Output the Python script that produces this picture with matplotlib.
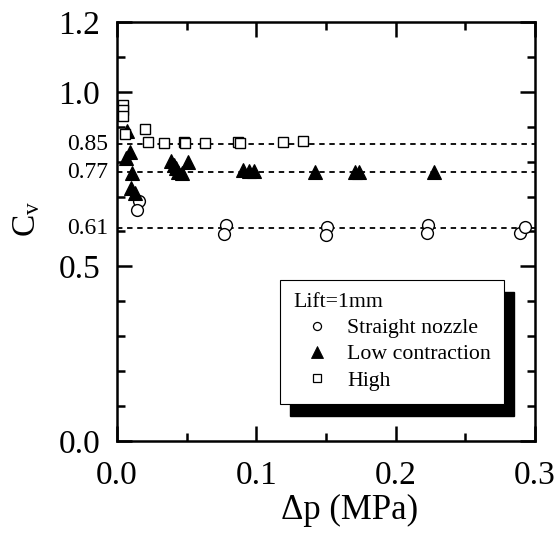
import matplotlib
matplotlib.use("Agg")
import matplotlib.pyplot as plt
from matplotlib.patches import Rectangle
from matplotlib.lines import Line2D
from matplotlib.ticker import MultipleLocator

plt.rcParams['font.family'] = ['Liberation Serif', 'DejaVu Serif']
plt.rcParams['mathtext.fontset'] = 'custom'
plt.rcParams['mathtext.rm'] = 'Liberation Serif'
plt.rcParams['mathtext.it'] = 'Liberation Serif:italic'

# ---- data ----
straight_dp = [0.0155, 0.0147, 0.0785, 0.0766, 0.1506, 0.1498, 0.2232, 0.2226, 0.2893, 0.2929]
straight_cv = [0.687, 0.661, 0.619, 0.593, 0.613, 0.590, 0.619, 0.596, 0.596, 0.612]

low_dp = [0.0075, 0.0090, 0.0068, 0.0110, 0.0104, 0.0126,
          0.0390, 0.0406, 0.0420, 0.0440, 0.0464, 0.0507,
          0.0902, 0.0945, 0.0981, 0.1420, 0.1710, 0.1740, 0.2275]
low_cv = [0.888, 0.828, 0.810, 0.767, 0.725, 0.710,
          0.802, 0.791, 0.782, 0.770, 0.767, 0.799,
          0.776, 0.773, 0.773, 0.770, 0.770, 0.770, 0.770]

high_dp = [0.0040, 0.0040, 0.0040, 0.0061, 0.0198, 0.0219, 0.0334,
           0.0478, 0.0490, 0.0629, 0.0866, 0.0880, 0.1190, 0.1334]
high_cv = [0.962, 0.948, 0.931, 0.879, 0.893, 0.856, 0.853,
           0.856, 0.853, 0.853, 0.856, 0.853, 0.856, 0.859]

ref_levels = [0.61, 0.77, 0.85]
ref_labels = ['0.61', '0.77', '0.85']
y_ticks = [0.0, 0.5, 1.0, 1.2]
y_ticklabels = ['0.0', '0.5', '1.0', '1.2']
x_ticks = [0.0, 0.1, 0.2, 0.3]
x_ticklabels = ['0.0', '0.1', '0.2', '0.3']
legend_title = 'Lift=1mm'
series_names = ['Straight nozzle', 'Low contraction', 'High']

# ---- figure ----
fig = plt.figure(figsize=(5.58, 5.41), dpi=100)
ax = fig.add_axes([117/558, 1-441/541, 418/558, 419/541])

for lv in ref_levels:
    ax.axhline(lv, color='k', lw=1.3, dashes=(3, 2.6), zorder=1)

ax.plot(straight_dp, straight_cv, 'o', ms=8.5, mfc='white', mec='k', mew=1.0, ls='none', zorder=3)
ax.plot(low_dp, low_cv, '^', ms=9.5, mfc='k', mec='k', mew=0.8, ls='none', zorder=3)
ax.plot(high_dp, high_cv, 's', ms=7, mfc='white', mec='k', mew=1.0, ls='none', zorder=3)

ax.set_xlim(0, 0.3)
ax.set_ylim(0, 1.2)
ax.set_xticks(x_ticks)
ax.set_xticklabels(x_ticklabels)
ax.set_yticks(y_ticks)
ax.set_yticklabels(y_ticklabels)
ax.xaxis.set_minor_locator(MultipleLocator(0.05))
ax.yaxis.set_minor_locator(MultipleLocator(0.1))
ax.tick_params(which='both', direction='in', top=True, right=True, width=1.8)
ax.tick_params(which='major', length=11)
ax.tick_params(which='minor', length=6)
ax.tick_params(axis='y', which='major', labelsize=24, pad=12)
ax.tick_params(axis='x', which='major', labelsize=24, pad=14)
for sp in ax.spines.values():
    sp.set_linewidth(1.8)

for lv, lb in zip(ref_levels, ref_labels):
    ax.text(-0.022, lv, lb, transform=ax.get_yaxis_transform(), ha='right', va='center', fontsize=17)

ax.set_xlabel('Δp (MPa)', fontsize=25)
ax.xaxis.label.set_va('center')
ax.xaxis.set_label_coords(0.557, -0.165)
ax.set_ylabel(r'C$_\mathregular{v}$', fontsize=24)
ax.yaxis.label.set_va('center')
ax.yaxis.set_label_coords(-0.215, 0.53)

proxies = [
    Line2D([], [], marker='o', ms=5.8, mfc='white', mec='k', mew=0.9, ls='none'),
    Line2D([], [], marker='^', ms=8.0, mfc='k', mec='k', mew=0.6, ls='none'),
    Line2D([], [], marker='s', ms=5.6, mfc='white', mec='k', mew=0.9, ls='none'),
]
leg = ax.legend(proxies, series_names, title=legend_title, loc='upper left',
                bbox_to_anchor=(0.39, 0.384), borderaxespad=0, fontsize=15.7,
                title_fontsize=15.7, alignment='left', fancybox=False, framealpha=1,
                edgecolor='k', handlelength=2.2, handletextpad=0.27,
                labelspacing=0.27, borderpad=0.6)
leg.get_frame().set_linewidth(0.8)
leg.set_zorder(6)

fig.canvas.draw()
bb = leg.get_window_extent()
inv = ax.transAxes.inverted()
(x0, y0) = inv.transform((bb.x0 + 10, bb.y0 - 12))
(x1, y1) = inv.transform((bb.x1 + 10, bb.y1 - 12))
ax.add_patch(Rectangle((x0, y0), x1 - x0, y1 - y0, transform=ax.transAxes,
                       facecolor='k', edgecolor='k', zorder=5, clip_on=False))

fig.savefig('out.png', dpi=100)
